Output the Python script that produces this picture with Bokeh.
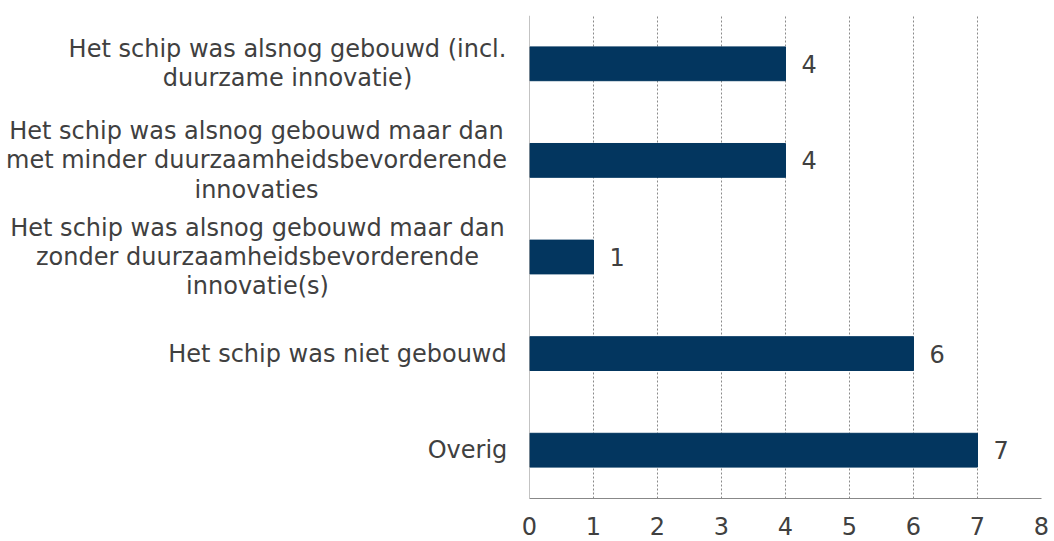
from bokeh.plotting import figure
from bokeh.layouts import row
from bokeh.models import LabelSet, ColumnDataSource, FactorRange, Range1d, FixedTicker, Span
from bokeh.core.properties import value
from bokeh.embed import file_html
from bokeh.resources import INLINE

categories = [
    "Het schip was alsnog gebouwd (incl.\nduurzame innovatie)",
    "Het schip was alsnog gebouwd maar dan\nmet minder duurzaamheidsbevorderende\ninnovaties",
    "Het schip was alsnog gebouwd maar dan\nzonder duurzaamheidsbevorderende\ninnovatie(s)",
    "Het schip was niet gebouwd",
    "Overig",
]
values = [4, 4, 1, 6, 7]
x_ticks = [0, 1, 2, 3, 4, 5, 6, 7, 8]

# layout: horizontal centre (px) of each category label block in the label panel
label_centres = [287, 256, 257, 337, 467]

FONT = "DejaVu Sans"
TXT = "#404040"
BAR = "#03365F"
AXIS = "#888888"

yr = FactorRange(factors=list(reversed(categories)), range_padding=0)

# ---- label panel (left) ----
LW = 515
pl = figure(width=LW, height=541, x_range=Range1d(0, LW), y_range=yr,
            x_axis_location=None, y_axis_location=None,
            output_backend="svg", toolbar_location=None,
            min_border_left=0, min_border_right=0, min_border_top=15, min_border_bottom=43)
pl.outline_line_color = None
pl.grid.visible = False
lsrc = ColumnDataSource(dict(cat=categories, cx=label_centres))
pl.text(x="cx", y="cat", text="cat", source=lsrc, text_align="center", text_baseline="middle",
        text_font=value(FONT), text_font_size=value("24px"), text_color=TXT, text_line_height=1.05)

# ---- bar chart (right) ----
p = figure(
    width=1054 - LW, height=541,
    y_range=yr, x_range=Range1d(0, 8), y_axis_location=None,
    output_backend="svg", toolbar_location=None,
    min_border_left=529 - LW, min_border_right=13, min_border_top=15, min_border_bottom=43,
)
p.outline_line_color = None

src = ColumnDataSource(dict(cat=categories, val=values, txt=[str(v) for v in values]))
p.hbar(y="cat", right="val", left=0, height=0.35, source=src, fill_color=BAR, line_color=BAR)

p.add_layout(LabelSet(x="val", y="cat", text="txt", source=src, x_offset=16,
                      text_baseline="middle", text_align="left",
                      text_font=value(FONT), text_font_size=value("24px"), text_color=TXT))

p.ygrid.grid_line_color = None
p.xgrid.grid_line_color = "#8a8a8a"
p.xgrid.grid_line_dash = "2 2"
p.xgrid.grid_line_width = 1

# vertical category-axis line at x = 0
p.add_layout(Span(location=0, dimension="height", line_color=AXIS, line_width=1))

p.xaxis.ticker = FixedTicker(ticks=x_ticks)
p.xaxis.major_tick_line_color = None
p.xaxis.minor_tick_line_color = None
p.xaxis.axis_line_color = AXIS
p.xaxis.major_label_text_font = FONT
p.xaxis.major_label_text_font_size = "24px"
p.xaxis.major_label_text_color = TXT
p.xaxis.major_label_standoff = 12

layout = row(pl, p, spacing=0)
open("out.html", "w").write(file_html(layout, INLINE))
